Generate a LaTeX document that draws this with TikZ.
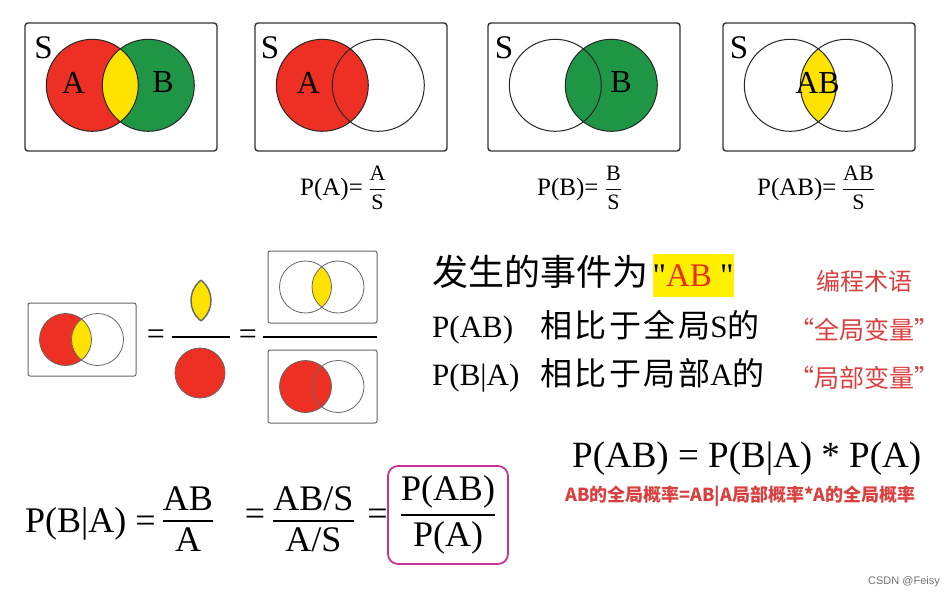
\documentclass[tikz,border=0pt]{standalone}
\usepackage{amsmath}
\usepackage{fontspec}
\setmainfont{Liberation Serif}
\newfontfamily\cjk{Noto Sans CJK SC}
\newfontfamily\wmfont{Liberation Sans}
\usetikzlibrary{positioning,calc}
\newcommand{\fsz}[1]{\fontsize{#1}{#1}\selectfont}
\definecolor{vred}{RGB}{238,48,36}
\definecolor{vgreen}{RGB}{30,150,70}
\definecolor{vyellow}{RGB}{255,226,0}
\definecolor{hlyellow}{RGB}{255,240,0}
\definecolor{abred}{RGB}{235,45,20}
\definecolor{txtred}{RGB}{218,64,64}
\definecolor{boxpink}{RGB}{200,50,150}

\begin{document}
\begin{tikzpicture}[x=1pt, y=-1pt, every node/.style={inner sep=0pt}]
\tikzset{frame/.style={draw=black!80, line width=1.4pt, rounded corners=3pt},
  sframe/.style={draw=black!60, line width=1pt, rounded corners=2pt},
  ring/.style={draw=black!85, line width=1pt},
  sring/.style={draw=black!60, line width=0.8pt},
  fbar/.style={line width=2.5pt},
  letter/.style={font=\fsz{32}},
  pics/venn/.style n args={6}{code={
    % radius, centre gap, fill A, fill B, fill of the overlap, ring style
    \fill[#3] (0,0) circle (#1);
    \fill[#4] (#2,0) circle (#1);
    \begin{scope}
      \clip (0,0) circle (#1);
      \fill[#5] (#2,0) circle (#1);
    \end{scope}
    \draw[#6] (0,0) circle (#1) (#2,0) circle (#1);
  }}}
\useasboundingbox (0,0) rectangle (948,595);

% top row
\node[frame, minimum width=192pt, minimum height=128pt] (sAll) at (121,87) {};
\node[frame, minimum width=192pt, minimum height=128pt] (sA) at (351,87) {};
\node[frame, minimum width=192pt, minimum height=128pt] (sB) at (584,87) {};
\node[frame, minimum width=192pt, minimum height=128pt] (sAB) at (819,87) {};
\pic at ($(sAll.north west)+(68,63)$) {venn={46pt}{56}{vred}{vgreen}{vyellow}{ring}};
\pic at ($(sA.north west)+(68,63)$) {venn={46pt}{56}{vred}{white}{vred}{ring}};
\pic at ($(sB.north west)+(68,63)$) {venn={46pt}{56}{white}{vgreen}{vgreen}{ring}};
\pic at ($(sAB.north west)+(68,63)$) {venn={46pt}{56}{white}{white}{vyellow}{ring}};
\node[letter, font=\fsz{33}] (sAllS) at (43.5,48) {S};
\node[letter] (sAllA) at (73.5,82.5) {A};
\node[letter] (sAllB) at (163,82.5) {B};
\node[letter, font=\fsz{33}] (sAS) at (270,48) {S};
\node[letter] (sAA) at (308.5,82.5) {A};
\node[letter, font=\fsz{33}] (sBS) at (504,48) {S};
\node[letter] (sBB) at (621,82.5) {B};
\node[letter, font=\fsz{33}] (sABS) at (739,48) {S};
\node[letter] (sABAB) at (817.5,82.5) {AB};

\node[anchor=base west, font=\fsz{25}] (pA) at (300,195) {P(A)=};
\node[base right=5pt of pA, font=\fsz{22}] (fA) {$\genfrac{}{}{1.2pt}{0}{\text{A}}{\text{S}}$};
\node[anchor=base west, font=\fsz{25}] (pB) at (537,195) {P(B)=};
\node[base right=6pt of pB, font=\fsz{22}] (fB) {$\genfrac{}{}{1.2pt}{0}{\text{B}}{\text{S}}$};
\node[anchor=base west, font=\fsz{25}] (pAB) at (757,195) {P(AB)=};
\node[base right=5pt of pAB, font=\fsz{22}] (fAB) {$\genfrac{}{}{1.2pt}{0}{\text{AB}}{\text{S}}$};

% middle: picture equation
\node[sframe, minimum width=108pt, minimum height=73pt] (condA) at (82,339.5) {};
\pic at ($(condA.west)+(38,0)$) {venn={26pt}{32}{vred}{white}{vyellow}{sring}};
\node[font=\fsz{32}] (eqOne) at (156,337) {=};
\draw[fbar] (172,337) -- (230,337);
\begin{scope}
  \clip (185,300.5) circle (26pt);
  \fill[vyellow] (217,300.5) circle (26pt);
  \draw[sring, line width=1.4pt] (217,300.5) circle (26pt);
\end{scope}
\begin{scope}
  \clip (217,300.5) circle (26pt);
  \draw[sring, line width=1.4pt] (185,300.5) circle (26pt);
\end{scope}
\draw[sring, fill=vred] (200,373) circle (25pt);
\node[font=\fsz{32}] (eqTwo) at (248,337) {=};
\draw[fbar] (263,337) -- (377,337);
\node[sframe, minimum width=109pt, minimum height=72pt] (condAB) at (322.5,287) {};
\pic at ($(condAB.west)+(38,0)$) {venn={26pt}{32.5}{white}{white}{vyellow}{sring}};
\node[sframe, minimum width=109pt, minimum height=73pt] (condAonly) at (322.5,386.5) {};
\pic at ($(condAonly.west)+(38,0)$) {venn={26pt}{32.5}{vred}{white}{vred}{sring}};

% right: explanation
\node[anchor=base west, font=\cjk\fsz{36}] (event) at (432,285) {发生的事件为};
\node[anchor=west, fill=hlyellow, minimum width=80pt, minimum height=43pt, font=\fsz{33}] (eventAB) at ($(event.east)+(4,4)$) {\textquotedbl\textcolor{abred}{AB} \textquotedbl};
\node[anchor=base west, font=\cjk\fsz{24}, text=txtred] (term) at (816,290) {编程术语};
\node[anchor=base west, font=\fsz{31}] (lineAB) at (432,337) {\makebox[108pt][l]{P(AB)}{\cjk\fsz{32}\addfontfeature{LetterSpace=8}相比于全局}S{\cjk\fsz{32}的}};
\node[anchor=base west, font=\fsz{31}] (lineBA) at (432,385) {\makebox[108pt][l]{P(B|A)}{\cjk\fsz{32}\addfontfeature{LetterSpace=8}相比于局部}A{\cjk\fsz{32}的}};
\node[anchor=base west, font=\cjk\fsz{25}, text=txtred] (globalVar) at (789,339) {“全局变量”};
\node[anchor=base west, font=\cjk\fsz{25}, text=txtred] (localVar) at (789,387) {“局部变量”};

% bottom: formulas
\node[anchor=base west, font=\fsz{36}] (pBA) at (25,532) {P(B|A) =};
\node[anchor=base, font=\fsz{36}] (fracAB) at (188,527) {$\genfrac{}{}{2pt}{0}{\text{AB}}{\text{A}}$};
\node[font=\fsz{36}] (eqThree) at (255,517) {=};
\node[anchor=base, font=\fsz{36}] (fracABS) at (313.5,527) {$\genfrac{}{}{2pt}{0}{\text{AB/S}}{\text{A/S}}$};
\node[font=\fsz{36}] (eqFour) at (377.5,517) {=};
\node[draw=boxpink, line width=1.8pt, rounded corners=10pt, minimum width=120pt, minimum height=98pt, font=\fsz{36}] (fracP) at (448,515) {$\genfrac{}{}{2pt}{0}{\text{P(AB)}}{\text{P(A)}}$};
\node[anchor=base west, font=\fsz{37}] (bayes) at (572,467) {P(AB) = P(B|A) * P(A)};
\node[anchor=base west, font=\cjk\bfseries\fsz{18}, text=txtred] (bayesZh) at (565,501) {AB的全局概率=AB|A局部概率*A的全局概率};
\node[anchor=base west, font=\wmfont\fsz{11}, text=black!55] (mark) at (868,584) {CSDN @Feisy};
\end{tikzpicture}
\end{document}
